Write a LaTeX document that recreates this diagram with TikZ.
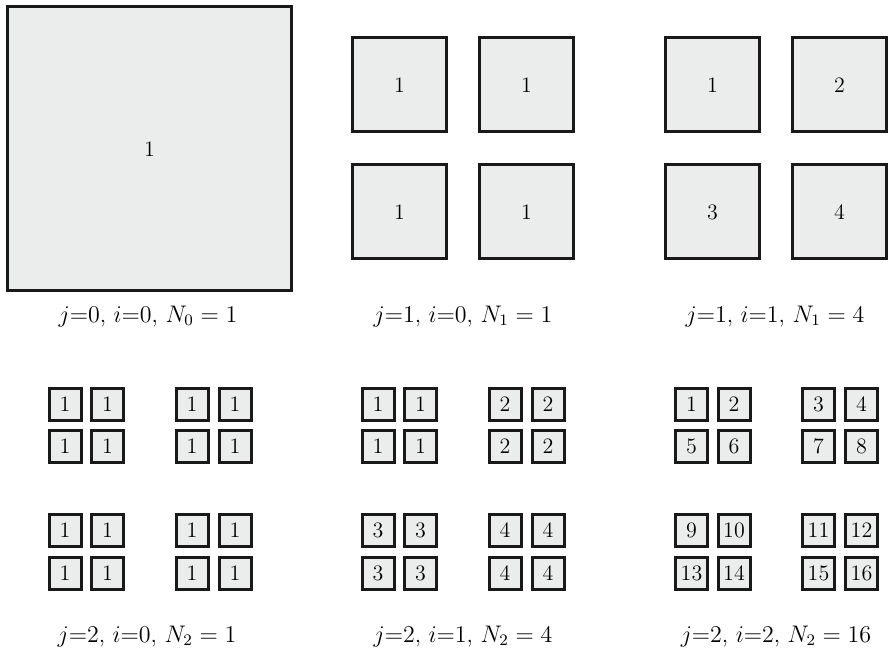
\documentclass[tikz,border=0pt]{standalone}
\usepackage{xcolor}
\usepackage{tikz}
\definecolor{cellgray}{RGB}{235,237,237}

\begin{document}
\begin{tikzpicture}[x=0.5pt, y=-0.5pt, every node/.style={font=\fontsize{11}{13}\selectfont},
  cell/.style={draw=black!90, fill=cellgray, line width=1.5pt, inner sep=0pt, minimum size=#1},
  cell/.default=16pt,
  caption/.style={anchor=base, font=\fontsize{11.6}{14}\selectfont}]
  \useasboundingbox (0,0) rectangle (889,668);
  % j=0
  \node[cell=142pt] (c0) at (149.5,149) {1};
  % j=1
  \foreach \r/\dy in {0/-63.5,1/63.5}
    \foreach \c/\dx in {0/-63.5,1/63.5} {
      \pgfmathtruncatemacro{\k}{2*\r+\c+1}
      \node[cell=47pt] (a-\r-\c) at (463+\dx,148.5+\dy) {1};
      \node[cell=47pt] (b-\r-\c) at (776+\dx,148.5+\dy) {\k};
    }
  % j=2
  \foreach \r/\dy in {0/-84.5,1/-42.5,2/42,3/84.5}
    \foreach \c/\dx in {0/-85,1/-42.5,2/42,3/85} {
      \pgfmathtruncatemacro{\q}{2*floor(\r/2)+floor(\c/2)+1}
      \pgfmathtruncatemacro{\k}{4*\r+\c+1}
      \node[cell] (d-\r-\c) at (150+\dx,488.5+\dy) {1};
      \node[cell] (e-\r-\c) at (463+\dx,488.5+\dy) {\q};
      \node[cell] (f-\r-\c) at (776.5+\dx,488.5+\dy) {\k};
    }
  % captions
  \node[caption] (t0) at (148,322) {$j{=}0$, $i{=}0$, $N_0 = 1$};
  \node[caption] (t1) at (463,322) {$j{=}1$, $i{=}0$, $N_1 = 1$};
  \node[caption] (t2) at (775,322) {$j{=}1$, $i{=}1$, $N_1 = 4$};
  \node[caption] (t3) at (147,642) {$j{=}2$, $i{=}0$, $N_2 = 1$};
  \node[caption] (t4) at (463,642) {$j{=}2$, $i{=}1$, $N_2 = 4$};
  \node[caption] (t5) at (776,642) {$j{=}2$, $i{=}2$, $N_2 = 16$};
\end{tikzpicture}
\end{document}
